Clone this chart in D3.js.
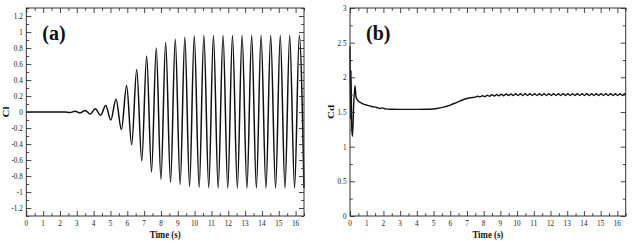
<!DOCTYPE html>
<html><head><meta charset="utf-8">
<script src="https://cdn.jsdelivr.net/npm/d3@7"></script>
<style>
body{margin:0;background:#fff;}
svg{display:block;}
</style></head>
<body>
<svg id="c" width="640" height="241"></svg>
<script>
// ---------- DATA ----------
const xTickValues = [0,1,2,3,4,5,6,7,8,9,10,11,12,13,14,15,16];
const xTickLabels = ["0","1","2","3","4","5","6","7","8","9","10","11","12","13","14","15","16"];
const xMinorValues = [0.5,1.5,2.5,3.5,4.5,5.5,6.5,7.5,8.5,9.5,10.5,11.5,12.5,13.5,14.5,15.5,16.5];

const clTickValues = [1.2,1,0.8,0.6,0.4,0.2,0,-0.2,-0.4,-0.6,-0.8,-1,-1.2];
const clTickLabels = ["1.2","1","0.8","0.6","0.4","0.2","0","-0.2","-0.4","-0.6","-0.8","-1","-1.2"];
const clMinorValues = [1.3,1.1,0.9,0.7,0.5,0.3,0.1,-0.1,-0.3,-0.5,-0.7,-0.9,-1.1,-1.3];

const cdTickValues = [0,0.5,1,1.5,2,2.5,3];
const cdTickLabels = ["0","0.5","1","1.5","2","2.5","3"];
const cdMinorValues = [0.25,0.75,1.25,1.75,2.25,2.75];

// Cl time history (extrema)
const clTime = [0,2.3,2.6,2.9,3.2,3.5,3.8,4.1,4.41,4.72,5.02,5.33,5.65,5.96,6.26,6.56,6.86,7.15,7.44,7.72,8.0,8.28,8.57,8.85,9.14,9.42,9.7,9.98,10.27,10.55,10.84,11.12,11.4,11.69,11.97,12.25,12.54,12.82,13.11,13.39,13.67,13.95,14.24,14.52,14.81,15.09,15.37,15.65,15.94,16.22,16.5];
const clValue = [0,0,-0.006,0.01,-0.012,0.02,-0.025,0.04,-0.04,0.08,-0.1,0.16,-0.22,0.33,-0.41,0.53,-0.61,0.70,-0.75,0.80,-0.84,0.87,-0.88,0.91,-0.905,0.935,-0.93,0.95,-0.94,0.955,-0.945,0.955,-0.95,0.955,-0.95,0.955,-0.95,0.955,-0.95,0.955,-0.95,0.955,-0.95,0.955,-0.95,0.955,-0.95,0.955,-0.95,0.955,-0.95];

// Cd time history
const cdTime = [0,0.03,0.06,0.1,0.15,0.22,0.3,0.36,0.45,0.6,0.8,1.0,1.3,1.6,1.8,1.95,2.1,2.5,3.0,4.0,4.8,5.2,5.6,6.0,6.4,6.8,7.2,
  7.50,7.64,7.78,7.93,8.07,8.21,8.35,8.49,8.64,8.78,8.92,9.06,9.20,9.35,9.49,9.63,9.77,9.91,10.06,10.20,10.34,10.48,10.62,10.77,10.91,11.05,11.19,11.33,11.48,11.62,11.76,11.90,12.04,12.19,12.33,12.47,12.61,12.75,12.90,13.04,13.18,13.32,13.46,13.61,13.75,13.89,14.03,14.17,14.32,14.46,14.60,14.74,14.88,15.03,15.17,15.31,15.45,15.59,15.74,15.88,16.02,16.16,16.30,16.45,16.50];
const cdValue = [2.45,1.4,2.1,1.3,1.15,1.6,1.88,1.72,1.67,1.64,1.615,1.6,1.58,1.565,1.55,1.56,1.545,1.54,1.538,1.538,1.54,1.55,1.57,1.6,1.64,1.68,1.705,
  1.715,1.728,1.718,1.735,1.722,1.742,1.727,1.748,1.730,1.752,1.733,1.757,1.735,1.760,1.737,1.762,1.738,1.763,1.738,1.764,1.738,1.764,1.738,1.764,1.738,1.764,1.738,1.764,1.738,1.764,1.738,1.764,1.738,1.764,1.738,1.764,1.738,1.764,1.738,1.764,1.738,1.764,1.738,1.764,1.738,1.764,1.738,1.764,1.738,1.764,1.738,1.764,1.738,1.764,1.738,1.764,1.738,1.764,1.738,1.764,1.738,1.764,1.738,1.764,1.750];

// ---------- DRAW ----------
const FONT = "'Liberation Serif','Times New Roman',Tinos,'DejaVu Serif',serif";
const svg = d3.select("#c");

function panel(o){
  const x = d3.scaleLinear().domain([0,16.5]).range([o.left,o.right]);
  const y = d3.scaleLinear().domain(o.ydom).range([o.bottom,o.top]);
  const g = svg.append("g");
  const H = o.bottom - o.top, W = o.right - o.left;

  // data line
  const pts = o.t.map((t,i)=>[t,o.v[i]]);
  g.append("path").datum(pts)
    .attr("fill","none").attr("stroke","#111").attr("stroke-width",o.lw)
    .attr("stroke-linejoin","round")
    .attr("d", d3.line().x(d=>x(d[0])).y(d=>y(d[1])).curve(d3.curveMonotoneX));

  function ax(gen, tx, ty, vals, size){
    const a = g.append("g").attr("transform",`translate(${tx},${ty})`)
      .call(gen.tickValues(vals).tickSize(size).tickFormat(""));
    a.select(".domain").remove();
    a.selectAll("line").attr("stroke","#333").attr("stroke-width",0.9);
    return a;
  }
  // inward ticks on all four sides
  ax(d3.axisBottom(x), 0, o.bottom, o.xMaj, -5);
  ax(d3.axisBottom(x), 0, o.bottom, o.xMin, -2.8);
  ax(d3.axisTop(x), 0, o.top, o.xMaj, -5);
  ax(d3.axisTop(x), 0, o.top, o.xMin, -2.8);
  ax(d3.axisLeft(y), o.left, 0, o.yMaj, -5);
  ax(d3.axisLeft(y), o.left, 0, o.yMin, -2.8);
  ax(d3.axisRight(y), o.right, 0, o.yMaj, -5);
  ax(d3.axisRight(y), o.right, 0, o.yMin, -2.8);

  // frame
  g.append("rect").attr("x",o.left).attr("y",o.top).attr("width",W).attr("height",H)
    .attr("fill","none").attr("stroke","#333").attr("stroke-width",1);

  // tick labels
  g.selectAll(".xl").data(o.xMaj).enter().append("text")
    .attr("transform",(d)=>`translate(${x(d)},226) scale(0.85,1)`)
    .attr("text-anchor","middle").attr("font-size",8.5).attr("font-family",FONT).attr("fill","#222")
    .text((d,i)=>o.xLab[i]);
  g.selectAll(".yl").data(o.yMaj).enter().append("text")
    .attr("transform",(d)=>`translate(${o.left-3.5},${y(d)+3}) scale(0.85,1)`)
    .attr("text-anchor","end").attr("font-size",8.5).attr("font-family",FONT).attr("fill","#222")
    .text((d,i)=>o.yLab[i]);

  // titles
  g.append("text").attr("transform",`translate(${(o.left+o.right)/2},237.5) scale(0.8,1)`)
    .attr("text-anchor","middle").attr("font-size",11).attr("font-weight","bold")
    .attr("font-family",FONT).attr("fill","#111")
    .text("Time (s)");
  g.append("text").attr("transform",`translate(${o.ylx},${(o.top+o.bottom)/2}) scale(0.75,1) rotate(-90)`)
    .attr("text-anchor","middle").attr("font-size",11).attr("font-weight","bold")
    .attr("font-family",FONT).attr("fill","#111")
    .text(o.ytitle);
  g.append("text").attr("x",o.left+16).attr("y",40)
    .attr("font-size",20).attr("font-weight","bold").attr("font-family",FONT).attr("fill","#111")
    .text(o.tag);
}

panel({left:26.3,right:304,top:8,bottom:216,ydom:[-1.3,1.3],
  t:clTime,v:clValue,lw:1.5,xMaj:xTickValues,xMin:xMinorValues,xLab:xTickLabels,
  yMaj:clTickValues,yMin:clMinorValues,yLab:clTickLabels,ytitle:"Cl",ylx:9,tag:"(a)"});
panel({left:350,right:625.7,top:8,bottom:216,ydom:[0,3],
  t:cdTime,v:cdValue,lw:1.4,xMaj:xTickValues,xMin:xMinorValues,xLab:xTickLabels,
  yMaj:cdTickValues,yMin:cdMinorValues,yLab:cdTickLabels,ytitle:"Cd",ylx:334,tag:"(b)"});
</script>
</body></html>
